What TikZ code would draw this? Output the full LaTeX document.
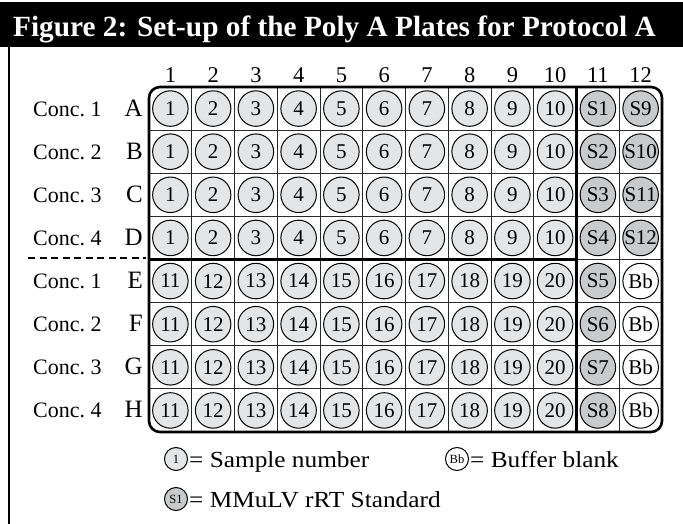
\documentclass[tikz,border=0pt]{standalone}
\usepackage{fontspec}
\setmainfont{Liberation Serif}
\newfontfamily\widefont[FakeStretch=1.1]{Liberation Serif}
\definecolor{sampfill}{HTML}{E4E5E6}
\definecolor{stdfill}{HTML}{C9CACB}
\definecolor{gridcol}{HTML}{2A2A2A}
\begin{document}
\begin{tikzpicture}[x=1pt,y=-1pt,
  well/.style={circle,draw=black,line width=1pt,minimum size=35.5pt,inner sep=0pt,font=\fontsize{21}{21}\selectfont},
  samp/.style={well,fill=sampfill},
  stdw/.style={well,fill=stdfill},
  blankw/.style={well,fill=white},
  lwell/.style={circle,draw=black,line width=1pt,minimum size=23pt,inner sep=0pt,font=\fontsize{12.5}{12.5}\selectfont},
  gridline/.style={draw=gridcol,line width=1pt},
  thickline/.style={draw=black,line width=2.4pt},
  collab/.style={font=\fontsize{22.5}{22.5}\selectfont,inner sep=0pt,anchor=base},
  rowlab/.style={font=\fontsize{25}{25}\selectfont,inner sep=0pt,anchor=base east},
  conclab/.style={font=\fontsize{22}{22}\selectfont,inner sep=0pt,anchor=base west},
  legtext/.style={font=\widefont\fontsize{23}{23}\selectfont,inner sep=0pt,anchor=base west}]
\useasboundingbox (0,0) rectangle (683,524);
% title bar
\fill[black] (0,2) rectangle (683,47);
\node[anchor=base west,text=white,font=\bfseries\fontsize{29.3}{29.3}\selectfont,inner sep=0pt] (title) at (13,37) {Figure 2: Set-up of the Poly A Plates for Protocol A};
% left frame line
\draw[line width=2pt] (9,47) -- (9,524);
% grid
\foreach \k in {1,...,11} {
  \draw[gridline] ({149+\k*42.75},87) -- ({149+\k*42.75},432);
}
\foreach \j in {1,...,7} {
  \draw[gridline] (149,{87+\j*43.125}) -- (662,{87+\j*43.125});
}
\draw[thickline] ({149+10*42.75},87) -- ({149+10*42.75},432);
\draw[thickline] (149,{87+4*43.125}) -- ({149+10*42.75},{87+4*43.125});
% wells
\foreach \r in {1,...,8} {
  \foreach \c in {1,...,10} {
    \ifnum\r<5 \pgfmathtruncatemacro\lab{\c}\else \pgfmathtruncatemacro\lab{\c+10}\fi
    \node[samp] (w\r-\c) at ({149+(\c-0.5)*42.75},{87+(\r-0.5)*43.125}) {\lab};
  }
  \node[stdw] (w\r-11) at ({149+10.5*42.75},{87+(\r-0.5)*43.125}) {S\r};
  \ifnum\r<5
    \pgfmathtruncatemacro\sn{\r+8}
    \node[stdw] (w\r-12) at ({149+11.5*42.75},{87+(\r-0.5)*43.125}) {S\sn};
  \else
    \node[blankw] (w\r-12) at ({149+11.5*42.75},{87+(\r-0.5)*43.125}) {Bb};
  \fi
}
% plate border
\draw[line width=2.6pt,rounded corners=11pt] (149,87) rectangle (662,432);
% column labels
\foreach \c in {1,...,12} {
  \node[collab] (col\c) at ({149+(\c-0.5)*42.75},83) {\c};
}
% row labels
\foreach \L [count=\r] in {A,B,C,D,E,F,G,H} {
  \pgfmathtruncatemacro\cn{mod(\r-1,4)+1}
  \node[rowlab] (row\r) at (143,{87+(\r-0.5)*43.125+7.5}) {\L};
  \node[conclab] (conc\r) at (33,{87+(\r-0.5)*43.125+7.5}) {Conc.\ \cn};
}
% dashed separator
\coordinate (dashA) at (28,258);
\coordinate (dashB) at (146,258);
\draw[line width=2.5pt,dash pattern=on 7pt off 4.5pt] (dashA) -- (dashB);
% legend
\node[lwell,fill=sampfill] (leg1) at (176,459) {1};
\node[legtext] (legt1) at (189,467) {= Sample number};
\node[lwell,fill=white] (leg2) at (457,459) {Bb};
\node[legtext] (legt2) at (470,467) {= Buffer blank};
\node[lwell,fill=stdfill] (leg3) at (176,499) {S1};
\node[legtext] (legt3) at (189,507) {= MMuLV rRT Standard};
\end{tikzpicture}
\end{document}
